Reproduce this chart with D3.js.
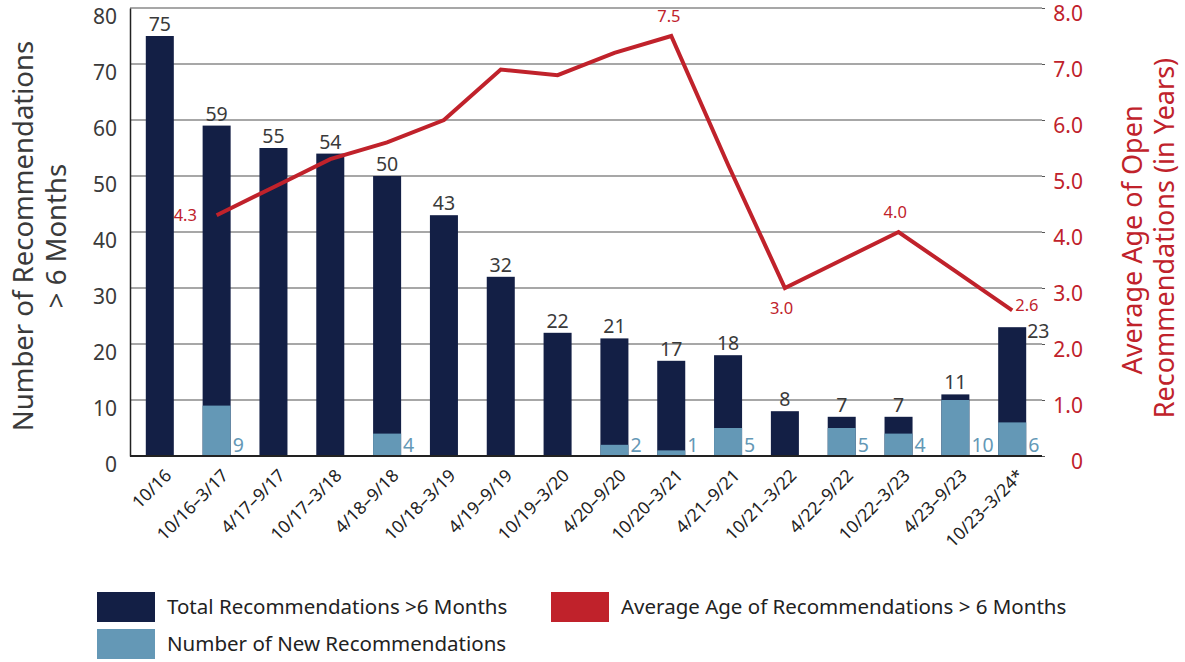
<!DOCTYPE html>
<html>
<head>
<meta charset="utf-8">
<script src="https://cdn.jsdelivr.net/npm/d3@7"></script>
<style>
  body { margin: 0; background: #fff; }
  text { font-family: "Noto Sans", Lato, sans-serif; }
</style>
</head>
<body>
<script>
// data
const periods = ["10/16", "10/16–3/17", "4/17–9/17", "10/17–3/18", "4/18–9/18", "10/18–3/19",
  "4/19–9/19", "10/19–3/20", "4/20–9/20", "10/20–3/21", "4/21–9/21", "10/21–3/22",
  "4/22–9/22", "10/22–3/23", "4/23–9/23", "10/23–3/24*"];
const totalRecs = [75, 59, 55, 54, 50, 43, 32, 22, 21, 17, 18, 8, 7, 7, 11, 23];
const newRecs = [0, 9, 0, 0, 4, 0, 0, 0, 2, 1, 5, 0, 5, 4, 10, 6];
const avgAge = [null, 4.3, 4.8, 5.3, 5.6, 6.0, 6.9, 6.8, 7.2, 7.5, 5.2, 3.0, 3.5, 4.0, 3.3, 2.6];
const ageLabelled = [1, 9, 11, 13, 15];
const leftTicks = [0, 10, 20, 30, 40, 50, 60, 70, 80];
const rightTicks = [0, 1, 2, 3, 4, 5, 6, 7, 8];

const navy = "#131f45", lightBlue = "#6498b6", red = "#c0222b", grey = "#3a3a3a";

const W = 1185, H = 662;
const plot = {left: 130, right: 1042, top: 8, bottom: 456};

const svg = d3.select("body").append("svg")
  .attr("width", W)
  .attr("height", H);

const x = d3.scaleBand()
  .domain(periods)
  .range([plot.left, plot.right])
  .paddingInner(0.507)
  .paddingOuter(0.278);

const y = d3.scaleLinear().domain([0, 80]).range([plot.bottom, plot.top]);
const y2 = d3.scaleLinear().domain([0, 8]).range([plot.bottom, plot.top]);

// grid lines
svg.append("g")
  .selectAll("line")
  .data(leftTicks.slice(1))
  .join("line")
    .attr("x1", plot.left).attr("x2", plot.right)
    .attr("y1", d => y(d)).attr("y2", d => y(d))
    .attr("stroke", "#8a8a8a")
    .attr("stroke-width", 1.3);

// left axis
const yAxis = svg.append("g")
  .attr("transform", `translate(${plot.left},0)`)
  .call(d3.axisLeft(y).tickValues(leftTicks).tickSize(0).tickPadding(13));
yAxis.select(".domain").attr("stroke", "#222").attr("stroke-width", 1.5);
yAxis.selectAll("text")
  .attr("dy", "0.75em")
  .attr("fill", grey)
  .style("font-size", "21px");

// right axis
const y2Axis = svg.append("g")
  .attr("transform", `translate(${plot.right},0)`)
  .call(d3.axisRight(y2).tickValues(rightTicks).tickSize(3).tickPadding(38)
    .tickFormat(d => d === 0 ? "0" : d3.format(".1f")(d)));
y2Axis.select(".domain").remove();
y2Axis.selectAll("line").attr("stroke", "#555");
y2Axis.selectAll("text")
  .attr("text-anchor", "end")
  .attr("dy", "0.6em")
  .attr("fill", red)
  .style("font-size", "21px");

// total bars
svg.append("g")
  .selectAll("rect")
  .data(periods)
  .join("rect")
    .attr("x", d => x(d))
    .attr("y", (d, i) => y(totalRecs[i]))
    .attr("width", x.bandwidth())
    .attr("height", (d, i) => y(0) - y(totalRecs[i]))
    .attr("fill", navy);

// new recommendations bars
svg.append("g")
  .selectAll("rect")
  .data(periods)
  .join("rect")
    .attr("x", d => x(d))
    .attr("y", (d, i) => y(newRecs[i]))
    .attr("width", x.bandwidth())
    .attr("height", (d, i) => y(0) - y(newRecs[i]))
    .attr("fill", lightBlue);

// baseline
svg.append("line")
  .attr("x1", plot.left).attr("x2", plot.right)
  .attr("y1", y(0)).attr("y2", y(0))
  .attr("stroke", "#222").attr("stroke-width", 2);

// total labels
const last = periods.length - 1;
svg.append("g")
  .selectAll("text")
  .data(periods)
  .join("text")
    .attr("x", (d, i) => i === last ? x(d) + x.bandwidth() + 1 : x(d) + x.bandwidth() / 2)
    .attr("y", (d, i) => i === last ? y(totalRecs[i]) + 11 : y(totalRecs[i]) - 5)
    .attr("text-anchor", (d, i) => i === last ? "start" : "middle")
    .attr("fill", grey)
    .style("font-size", "19.5px")
    .text((d, i) => totalRecs[i]);

// new labels
svg.append("g")
  .selectAll("text")
  .data(periods.filter((d, i) => newRecs[i] > 0))
  .join("text")
    .attr("x", d => x(d) + x.bandwidth() + 2)
    .attr("y", plot.bottom - 4)
    .attr("fill", lightBlue)
    .style("font-size", "19.5px")
    .text(d => newRecs[periods.indexOf(d)]);

// average age line
const line = d3.line()
  .defined(d => d[1] !== null)
  .x(d => x(d[0]) + x.bandwidth() / 2)
  .y(d => y2(d[1]));

svg.append("path")
  .datum(periods.map((p, i) => [p, avgAge[i]]))
  .attr("d", line)
  .attr("fill", "none")
  .attr("stroke", red)
  .attr("stroke-width", 4)
  .attr("stroke-linejoin", "miter");

// age labels
const agePos = {
  1: {dx: -43, dy: 6},
  9: {dx: -14, dy: -14},
  11: {dx: -15, dy: 26},
  13: {dx: -15, dy: -14},
  15: {dx: 3, dy: 1}
};
svg.append("g")
  .selectAll("text")
  .data(ageLabelled)
  .join("text")
    .attr("x", i => x(periods[i]) + x.bandwidth() / 2 + agePos[i].dx)
    .attr("y", i => y2(avgAge[i]) + agePos[i].dy)
    .attr("fill", red)
    .style("font-size", "16.5px")
    .text(i => d3.format(".1f")(avgAge[i]));

// x labels
svg.append("g")
  .selectAll("text")
  .data(periods)
  .join("text")
    .attr("transform", d => `translate(${x(d) + x.bandwidth() / 2 + 4},${plot.bottom + 12}) rotate(-45)`)
    .attr("text-anchor", "end")
    .attr("dy", "0.7em")
    .attr("fill", "#222")
    .style("font-size", "17.5px")
    .text(d => d);

// axis titles
svg.append("text")
  .attr("transform", "translate(33,236) rotate(-90)")
  .attr("text-anchor", "middle")
  .attr("fill", grey)
  .style("font-size", "27.5px")
  .text("Number of Recommendations");
svg.append("text")
  .attr("transform", "translate(66,236) rotate(-90)")
  .attr("text-anchor", "middle")
  .attr("fill", grey)
  .style("font-size", "27.5px")
  .text("> 6 Months");

svg.append("text")
  .attr("transform", "translate(1142,240) rotate(-90)")
  .attr("text-anchor", "middle")
  .attr("fill", red)
  .style("font-size", "27px")
  .text("Average Age of Open");
svg.append("text")
  .attr("transform", "translate(1174,238) rotate(-90)")
  .attr("text-anchor", "middle")
  .attr("fill", red)
  .style("font-size", "27px")
  .text("Recommendations (in Years)");

// legend
const legendItems = [
  {label: "Total Recommendations >6 Months", color: navy, x: 97, y: 592},
  {label: "Number of New Recommendations", color: lightBlue, x: 97, y: 629},
  {label: "Average Age of Recommendations > 6 Months", color: red, x: 551, y: 592}
];
const lg = svg.append("g")
  .selectAll("g")
  .data(legendItems)
  .join("g")
    .attr("transform", d => `translate(${d.x},${d.y})`);
lg.append("rect")
  .attr("width", 58)
  .attr("height", 30)
  .attr("fill", d => d.color);
lg.append("text")
  .attr("x", 70)
  .attr("y", 22)
  .attr("fill", "#222")
  .style("font-size", "20.5px")
  .text(d => d.label);
</script>
</body>
</html>
